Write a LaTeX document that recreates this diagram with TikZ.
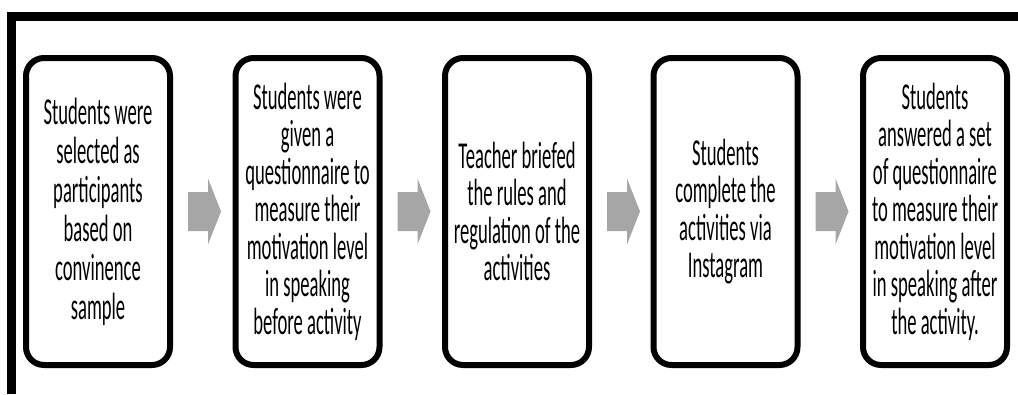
\documentclass[tikz,border=0pt]{standalone}
\usepackage{fontspec}
\newfontfamily\stepfont[FakeStretch=0.49]{Carlito}
\definecolor{arrowgrey}{HTML}{A6A6A6}
\begin{document}
\begin{tikzpicture}[x=1pt,y=-1pt,
  stepbox/.style={draw=black, line width=6pt, rounded corners=18pt,
    minimum width=144pt, minimum height=307pt, inner sep=0pt,
    align=center, text=black,
    font={\stepfont\fontsize{38}{37.5}\selectfont}},
  blockarrow/.style={fill=arrowgrey, draw=none}]
\useasboundingbox (0,0) rectangle (1018,394);

% outer frame: top and left rules
\draw[line width=8.5pt, line join=miter] (1018,16.5) -- (11.5,16.5) -- (11.5,394);

% the five steps
\node[stepbox, font={\stepfont\fontsize{38}{39}\selectfont}] (s1) at (98,211.5) {Students were\\selected as\\participants\\based on\\convinence\\sample};
\node[stepbox] (s2) at (307.5,211.5) {Students were\\given a\\questionnaire to\\measure their\\motivation level\\in speaking\\before activity};
\node[stepbox] (s3) at (517,211.5) {Teacher briefed\\the rules and\\regulation of the\\activities};
\node[stepbox] (s4) at (725.5,211.5) {Students\\complete the\\activities via\\Instagram};
\node[stepbox] (s5) at (935,211.5) {Students\\answered a set\\of questionnaire\\to measure their\\motivation level\\in speaking after\\the activity.};

% grey block arrows between consecutive steps
\foreach \a in {s1,s2,s3,s4}{
  \fill[blockarrow] ([shift={(15,-19.5)}]\a.east) -- ++(20,0) -- ++(0,-13.5)
    -- ++(13,33) -- ++(-13,33) -- ++(0,-13.5) -- ++(-20,0) -- cycle;
}
\end{tikzpicture}
\end{document}
